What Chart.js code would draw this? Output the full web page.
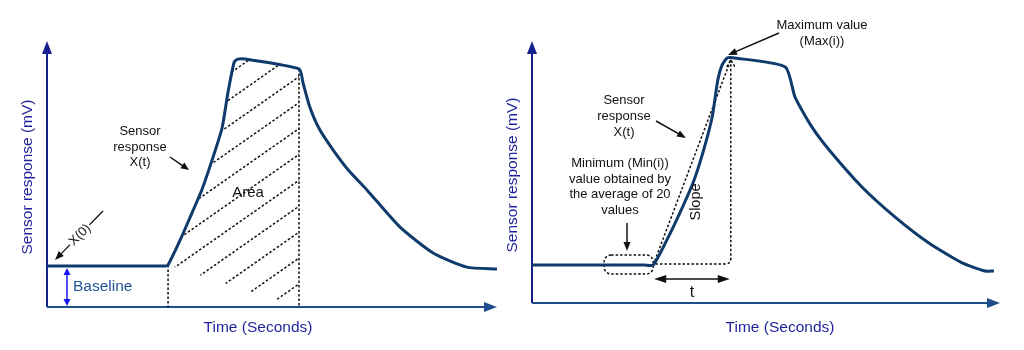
<!DOCTYPE html>
<html>
<head>
<meta charset="utf-8">
<script src="https://cdn.jsdelivr.net/npm/chart.js@4/dist/chart.umd.min.js"></script>
<style>
  html, body { margin: 0; padding: 0; background: #fff; }
  #wrap { position: relative; width: 1024px; height: 350px; }
  #leftBox { position: absolute; left: 0; top: 0; width: 512px; height: 350px; }
  #rightBox { position: absolute; left: 490px; top: 0; width: 534px; height: 350px; }
</style>
</head>
<body>
<div id="wrap">
  <div id="leftBox"><canvas id="leftChart"></canvas></div>
  <div id="rightBox"><canvas id="rightChart"></canvas></div>
</div>
<script>
// sensor response, left panel (time in arbitrary seconds, response in mV units 0-100)
const leftTime = [0, 24.5, 26.2, 26.9, 29.6, 32.2, 34.4, 36.7, 38.9, 40.2, 41.6, 42.4, 44.0, 56.0, 56.9, 58.4, 60.5, 63.6, 67.2, 71.1, 78.4, 85.8, 93.3, 100];
const leftResponse = [15.4, 15.4, 15.4, 15.8, 25.2, 35.3, 44.0, 55.3, 67.3, 80.5, 92.1, 93.2, 93.2, 89.5, 84.2, 75.2, 67.0, 59.0, 51.0, 44.0, 30.1, 20.3, 15.0, 14.3];
const areaWindow = [26.9, 56.0];

// sensor response, right panel
const rightTime = [0, 24.0, 25.9, 28.8, 31.6, 34.4, 36.5, 38.5, 39.7, 40.6, 41.7, 42.9, 54.1, 56.2, 59.8, 63.5, 70.5, 77.6, 84.8, 91.9, 96.8, 98.7];
const rightResponse = [14.5, 14.5, 14.5, 24.0, 34.4, 45.8, 57.3, 71.0, 85.1, 90.8, 93.5, 93.6, 90.1, 78.6, 67.2, 58.4, 44.3, 32.8, 22.9, 15.3, 12.2, 12.2];
const minWindow = [15.4, 25.9];

const FONT = '"Liberation Sans", Arial, sans-serif';
const curveColor = '#0f3b6c';

function arrowHead(ctx, x1, y1, x2, y2, len, half, color) {
  const a = Math.atan2(y2 - y1, x2 - x1);
  const bx = x2 - len * Math.cos(a), by = y2 - len * Math.sin(a);
  ctx.save();
  ctx.fillStyle = color;
  ctx.beginPath();
  ctx.moveTo(x2, y2);
  ctx.lineTo(bx + half * Math.sin(a), by - half * Math.cos(a));
  ctx.lineTo(bx - half * Math.sin(a), by + half * Math.cos(a));
  ctx.closePath();
  ctx.fill();
  ctx.restore();
}

function arrow(ctx, x1, y1, x2, y2, color, width, len, half, both) {
  const a = Math.atan2(y2 - y1, x2 - x1);
  const s = both ? len * 0.8 : 0;
  ctx.save();
  ctx.strokeStyle = color;
  ctx.lineWidth = width;
  ctx.setLineDash([]);
  ctx.beginPath();
  ctx.moveTo(x1 + s * Math.cos(a), y1 + s * Math.sin(a));
  ctx.lineTo(x2 - len * 0.8 * Math.cos(a), y2 - len * 0.8 * Math.sin(a));
  ctx.stroke();
  ctx.restore();
  arrowHead(ctx, x1, y1, x2, y2, len, half, color);
  if (both) arrowHead(ctx, x2, y2, x1, y1, len, half, color);
}

function text(ctx, str, x, y, size, color, align, rot) {
  ctx.save();
  ctx.translate(x, y);
  if (rot) ctx.rotate(rot);
  ctx.font = size + 'px ' + FONT;
  ctx.fillStyle = color;
  ctx.textAlign = align || 'center';
  ctx.textBaseline = 'middle';
  ctx.fillText(str, 0, 0);
  ctx.restore();
}

function dotted(ctx) {
  ctx.strokeStyle = '#111';
  ctx.lineWidth = 1.5;
  ctx.setLineDash([2.5, 2]);
}

// axes with arrow heads + axis titles
const axesPlugin = {
  id: 'axes',
  beforeDatasetsDraw(chart) {
    const ctx = chart.ctx, a = chart.chartArea;
    const o = chart.options.plugins.axes;
    ctx.save();
    ctx.lineWidth = 2;
    ctx.strokeStyle = '#15208c';
    ctx.beginPath();
    ctx.moveTo(a.left, a.bottom);
    ctx.lineTo(a.left, a.top + 10);
    ctx.stroke();
    arrowHead(ctx, a.left, a.bottom, a.left, a.top, 13, 5, '#15208c');
    ctx.strokeStyle = '#1d4e8b';
    ctx.beginPath();
    ctx.moveTo(a.left, a.bottom);
    ctx.lineTo(a.right - 10, a.bottom);
    ctx.stroke();
    arrowHead(ctx, a.left, a.bottom, a.right, a.bottom, 13, 5, '#1d4e8b');
    ctx.restore();
    text(ctx, 'Sensor response (mV)', o.yTitleX, (a.top + a.bottom) / 2 + 3, 15.5, '#1f1f9c', 'center', -Math.PI / 2);
    text(ctx, 'Time (Seconds)', o.xTitleX, 328, 15.5, '#1f1f9c', 'center');
  }
};

function curvePath(ctx, pts, i0, i1) {
  ctx.moveTo(pts[i0].x, pts[i0].y);
  for (let i = i0 + 1; i <= i1; i++) {
    const p = pts[i - 1], q = pts[i];
    if (p.cp2x !== undefined && q.cp1x !== undefined) {
      ctx.bezierCurveTo(p.cp2x, p.cp2y, q.cp1x, q.cp1y, q.x, q.y);
    } else {
      ctx.lineTo(q.x, q.y);
    }
  }
}

// left panel: hatched area + labels
const leftPlugin = {
  id: 'leftNotes',
  beforeDatasetsDraw(chart) {
    const ctx = chart.ctx, a = chart.chartArea;
    const xs = chart.scales.x;
    const pts = chart.getDatasetMeta(0).data;
    const i0 = leftTime.indexOf(areaWindow[0]), i1 = leftTime.indexOf(areaWindow[1]);
    const x0 = xs.getPixelForValue(areaWindow[0]), x1 = xs.getPixelForValue(areaWindow[1]);
    ctx.save();
    ctx.beginPath();
    ctx.moveTo(x0, a.bottom);
    ctx.lineTo(pts[i0].x, pts[i0].y);
    curvePath(ctx, pts, i0, i1);
    ctx.lineTo(x1, a.bottom);
    ctx.closePath();
    ctx.clip();
    dotted(ctx);
    const k = 0.7, step = 37;
    for (let n = -12; n < 6; n++) {
      const sx = x0 + 24 + n * step;
      ctx.beginPath();
      ctx.moveTo(sx, a.bottom);
      ctx.lineTo(sx + 400, a.bottom - 400 * k);
      ctx.stroke();
    }
    ctx.restore();
    ctx.save();
    dotted(ctx);
    ctx.beginPath();
    ctx.moveTo(x0, pts[i0].y);
    ctx.lineTo(x0, a.bottom);
    ctx.moveTo(x1, pts[i1].y);
    ctx.lineTo(x1, a.bottom);
    ctx.stroke();
    ctx.restore();
  },
  afterDatasetsDraw(chart) {
    const ctx = chart.ctx, a = chart.chartArea;
    const ys = chart.scales.y;
    const base = ys.getPixelForValue(leftResponse[0]);
    text(ctx, 'Area', 248, 193, 15, '#111');
    text(ctx, 'Sensor', 140, 131, 13, '#111');
    text(ctx, 'response', 140, 147, 13, '#111');
    text(ctx, 'X(t)', 140, 162, 13, '#111');
    arrow(ctx, 170, 157, 189, 170, '#111', 1.5, 8, 3.5);
    // X(0) pointer
    arrow(ctx, 103, 211, 55, 260, '#111', 1.3, 9, 3.5);
    ctx.save();
    ctx.translate(80, 235);
    ctx.rotate(-Math.PI / 4);
    ctx.fillStyle = '#fff';
    ctx.fillRect(-14, -7, 28, 14);
    ctx.restore();
    text(ctx, 'X(0)', 80, 235, 13, '#111', 'center', -Math.PI / 4);
    // baseline marker
    arrow(ctx, 67, base + 2, 67, a.bottom - 1, '#1414f0', 1.5, 7, 3.5, true);
    text(ctx, 'Baseline', 73, 287, 15.5, '#1f5597', 'left');
  }
};

// right panel: slope construction + labels
const rightPlugin = {
  id: 'rightNotes',
  beforeDatasetsDraw(chart) {
    const ctx = chart.ctx;
    const xs = chart.scales.x, ys = chart.scales.y;
    const iMin = rightTime.indexOf(minWindow[1]);
    const base = ys.getPixelForValue(rightResponse[iMin]);
    const iMax = rightResponse.indexOf(Math.max(...rightResponse));
    const mx = xs.getPixelForValue(rightTime[iMax]) - 2, my = ys.getPixelForValue(rightResponse[iMax]);
    const sx = xs.getPixelForValue(rightTime[iMin]);
    ctx.save();
    dotted(ctx);
    ctx.beginPath();
    ctx.moveTo(sx, base);
    ctx.lineTo(mx, my + 2);
    ctx.moveTo(mx, my + 2);
    ctx.lineTo(mx, base - 7);
    ctx.quadraticCurveTo(mx, base - 1, mx - 6, base - 1);
    ctx.lineTo(sx, base - 1);
    ctx.moveTo(mx - 4, my + 9);
    ctx.lineTo(mx, my + 2);
    ctx.lineTo(mx + 4, my + 9);
    ctx.stroke();
    // min window
    const r0 = xs.getPixelForValue(minWindow[0]), r1 = xs.getPixelForValue(minWindow[1]);
    ctx.beginPath();
    ctx.roundRect(r0, base - 10, r1 - r0, 19, 7);
    ctx.stroke();
    ctx.restore();
  },
  afterDatasetsDraw(chart) {
    const ctx = chart.ctx;
    const xs = chart.scales.x, ys = chart.scales.y;
    const iMin = rightTime.indexOf(minWindow[1]);
    const base = ys.getPixelForValue(rightResponse[iMin]);
    const iMax = rightResponse.indexOf(Math.max(...rightResponse));
    const mx = xs.getPixelForValue(rightTime[iMax]) - 2;
    const sx = xs.getPixelForValue(rightTime[iMin]);
    const dark = '#111';
    text(ctx, 'Maximum value', 332, 25, 13, dark);
    text(ctx, '(Max(i))', 332, 41, 13, dark);
    arrow(ctx, 289, 33, 238, 55, dark, 1.5, 9, 3.5);
    text(ctx, 'Sensor', 134, 100, 13, dark);
    text(ctx, 'response', 134, 116, 13, dark);
    text(ctx, 'X(t)', 134, 132, 13, dark);
    arrow(ctx, 166, 121, 196, 138, dark, 1.5, 9, 3.5);
    text(ctx, 'Minimum (Min(i))', 130, 163, 13, dark);
    text(ctx, 'value obtained by', 130, 179, 13, dark);
    text(ctx, 'the average of 20', 130, 194, 13, dark);
    text(ctx, 'values', 130, 210, 13, dark);
    arrow(ctx, 137, 223, 137, 251, dark, 1.5, 9, 3.5);
    text(ctx, 'Slope', 206, 202, 14.5, dark, 'center', -Math.PI / 2);
    arrow(ctx, sx + 1, base + 14, mx - 1, base + 14, dark, 1.5, 12, 4, true);
    text(ctx, 't', (sx + mx) / 2, base + 28, 16, dark);
  }
};

function makeChart(id, time, response, padding, titleX, notes) {
  return new Chart(document.getElementById(id).getContext('2d'), {
    type: 'line',
    data: {
      datasets: [{
        data: time.map((t, i) => ({ x: t, y: response[i] })),
        borderColor: curveColor,
        borderWidth: 3,
        pointRadius: 0,
        tension: 0.2,
        fill: false
      }]
    },
    options: {
      responsive: true,
      maintainAspectRatio: false,
      animation: false,
      layout: { padding: padding },
      scales: {
        x: { type: 'linear', min: 0, max: 100, display: false },
        y: { min: 0, max: 100, display: false }
      },
      plugins: {
        legend: { display: false },
        tooltip: { enabled: false },
        axes: { yTitleX: titleX[0], xTitleX: titleX[1] }
      }
    },
    plugins: [axesPlugin, notes]
  });
}

const leftChart = makeChart('leftChart', leftTime, leftResponse,
  { left: 47, right: 15, top: 41, bottom: 43 }, [28, 258], leftPlugin);
const rightChart = makeChart('rightChart', rightTime, rightResponse,
  { left: 42, right: 24, top: 41, bottom: 47 }, [23, 290], rightPlugin);
</script>
</body>
</html>
